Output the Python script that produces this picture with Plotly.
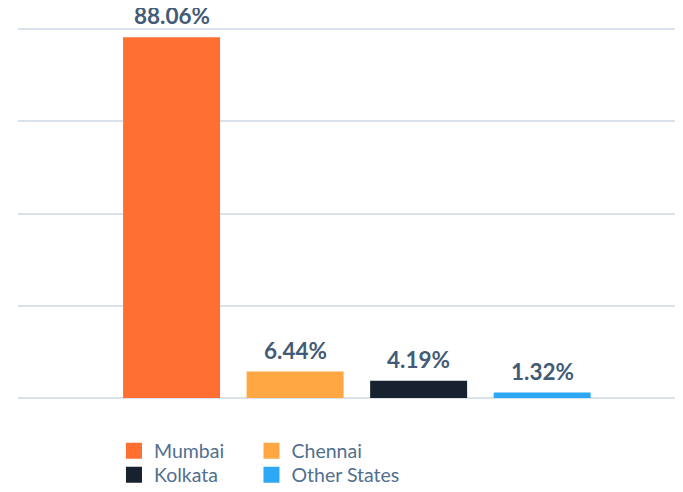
import plotly.graph_objects as go

regions = ["Mumbai", "Chennai", "Kolkata", "Other States"]
shares = [88.06, 6.44, 4.19, 1.32]
labels = ["88.06%", "6.44%", "4.19%", "1.32%"]
colors = ["#FF6F31", "#FFA843", "#17212F", "#2DA8F7"]

fig = go.Figure()

# bars (legend drawn by helper traces so the swatches can be bigger)
fig.add_trace(go.Bar(
    x=regions, y=shares, width=0.785,
    marker=dict(color=colors, line=dict(width=0)),
    showlegend=False, hoverinfo="x+y",
))

# value labels above each bar
for r, v, t in zip(regions, shares, labels):
    fig.add_annotation(
        x=r, y=v, text=f"<b>{t}</b>", showarrow=False,
        yanchor="bottom", yshift=6,
        font=dict(family="Lato", size=22.5, color="#425B76"),
    )

# legend laid out as a 2x2 grid, one small legend per entry
legend_names = ["legend", "legend2", "legend3", "legend4"]
for r, c, lg in zip(regions, colors, legend_names):
    fig.add_trace(go.Scatter(
        x=[None], y=[None], mode="markers", name=r,
        marker=dict(symbol="square", size=16, color=c),
        legend=lg,
    ))

legend_style = dict(
    orientation="h", xanchor="left", yanchor="middle",
    xref="container", yref="container",
    font=dict(family="Lato", size=19.5, color="#516F90"),
    itemsizing="trace", bgcolor="rgba(0,0,0,0)",
)
col_x = [0.157, 0.3607]
row_y = [0.0847, 0.0351]

# page body adds an 8px offset, figure size and margins compensate for it
fig.update_layout(
    width=675, height=484,
    margin=dict(l=10, r=0, t=20, b=94),
    paper_bgcolor="white", plot_bgcolor="white",
    xaxis=dict(
        range=[-1.243, 4.14], showticklabels=False, showgrid=False,
        zeroline=False, showline=False, ticks="",
    ),
    yaxis=dict(
        range=[0, 90.3], tickvals=[0, 22.5, 45, 67.5, 90], showticklabels=False,
        showgrid=True, gridcolor="#D9E1EB", gridwidth=1.5,
        zeroline=True, zerolinecolor="#D9E1EB", zerolinewidth=1.5,
    ),
)
for i, lg in enumerate(legend_names):
    fig.update_layout({lg: dict(x=col_x[i % 2], y=row_y[i // 2], **legend_style)})

fig.write_html("out.html")
